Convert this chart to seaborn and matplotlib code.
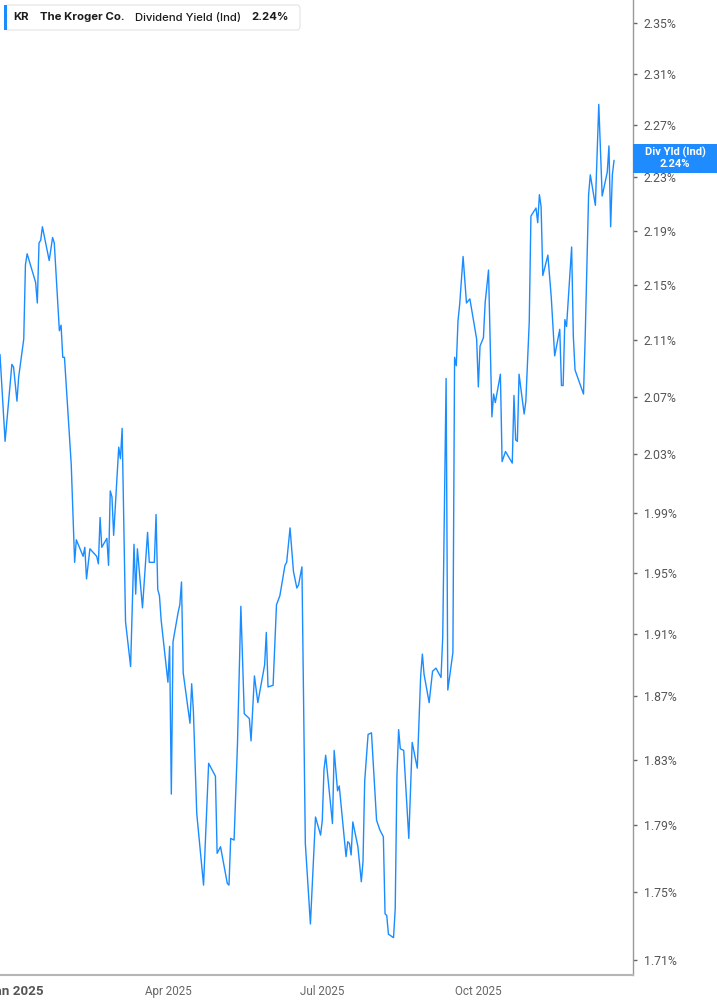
import matplotlib
matplotlib.use('Agg')
import matplotlib.pyplot as plt
from matplotlib.ticker import FixedLocator, NullLocator
from matplotlib.patches import FancyBboxPatch, Rectangle
import pandas as pd
import seaborn as sns

# Data (dividend yield, %)
dates = [
    "2024-12-23", "2024-12-26", "2024-12-29", "2024-12-30", "2024-12-31", "2025-01-02", "2025-01-03", "2025-01-06", "2025-01-07", "2025-01-08",
    "2025-01-13", "2025-01-14", "2025-01-15", "2025-01-16", "2025-01-17", "2025-01-21", "2025-01-23", "2025-01-24", "2025-01-27", "2025-01-28",
    "2025-01-29", "2025-01-30", "2025-02-03", "2025-02-05", "2025-02-06", "2025-02-10", "2025-02-11", "2025-02-12", "2025-02-14", "2025-02-18",
    "2025-02-19", "2025-02-20", "2025-02-21", "2025-02-24", "2025-02-25", "2025-02-26", "2025-02-27", "2025-02-28", "2025-03-03", "2025-03-04",
    "2025-03-05", "2025-03-07", "2025-03-10", "2025-03-12", "2025-03-13", "2025-03-14", "2025-03-17", "2025-03-20", "2025-03-21", "2025-03-24",
    "2025-03-25", "2025-03-26", "2025-03-27", "2025-03-28", "2025-04-01", "2025-04-02", "2025-04-03", "2025-04-04", "2025-04-07", "2025-04-08",
    "2025-04-09", "2025-04-10", "2025-04-14", "2025-04-15", "2025-04-16", "2025-04-18", "2025-04-22", "2025-04-25", "2025-04-29", "2025-04-30",
    "2025-05-02", "2025-05-06", "2025-05-07", "2025-05-08", "2025-05-10", "2025-05-12", "2025-05-14", "2025-05-16", "2025-05-19", "2025-05-20",
    "2025-05-22", "2025-05-24", "2025-05-28", "2025-05-29", "2025-05-30", "2025-06-02", "2025-06-04", "2025-06-06", "2025-06-09", "2025-06-10",
    "2025-06-12", "2025-06-14", "2025-06-16", "2025-06-17", "2025-06-19", "2025-06-21", "2025-06-24", "2025-06-27", "2025-06-30", "2025-07-01",
    "2025-07-02", "2025-07-03", "2025-07-07", "2025-07-08", "2025-07-10", "2025-07-11", "2025-07-15", "2025-07-16", "2025-07-17", "2025-07-18",
    "2025-07-19", "2025-07-22", "2025-07-24", "2025-07-25", "2025-07-26", "2025-07-28", "2025-07-30", "2025-08-02", "2025-08-04", "2025-08-06",
    "2025-08-07", "2025-08-08", "2025-08-09", "2025-08-12", "2025-08-13", "2025-08-14", "2025-08-15", "2025-08-16", "2025-08-18", "2025-08-21",
    "2025-08-23", "2025-08-26", "2025-08-28", "2025-08-29", "2025-08-30", "2025-09-02", "2025-09-04", "2025-09-06", "2025-09-09", "2025-09-10",
    "2025-09-12", "2025-09-13", "2025-09-16", "2025-09-17", "2025-09-18", "2025-09-19", "2025-09-20", "2025-09-22", "2025-09-24", "2025-09-26",
    "2025-09-30", "2025-10-01", "2025-10-02", "2025-10-04", "2025-10-05", "2025-10-07", "2025-10-09", "2025-10-10", "2025-10-11", "2025-10-14",
    "2025-10-15", "2025-10-17", "2025-10-21", "2025-10-22", "2025-10-23", "2025-10-24", "2025-10-25", "2025-10-28", "2025-10-29", "2025-10-31",
    "2025-11-01", "2025-11-04", "2025-11-05", "2025-11-06", "2025-11-07", "2025-11-08", "2025-11-11", "2025-11-13", "2025-11-15", "2025-11-18",
    "2025-11-19", "2025-11-20", "2025-11-21", "2025-11-22", "2025-11-25", "2025-11-26", "2025-11-27", "2025-12-02", "2025-12-03", "2025-12-05",
    "2025-12-06", "2025-12-09", "2025-12-11", "2025-12-13", "2025-12-16", "2025-12-17", "2025-12-18", "2025-12-19", "2025-12-20",
]

div_yield = [
    2.100, 2.039, 2.079, 2.093, 2.091, 2.067, 2.084, 2.111, 2.165, 2.173,
    2.152, 2.137, 2.181, 2.183, 2.193, 2.168, 2.185, 2.181, 2.117, 2.121,
    2.098, 2.098, 2.023, 1.957, 1.972, 1.961, 1.967, 1.946, 1.966, 1.961,
    1.956, 1.987, 1.967, 1.973, 1.955, 2.005, 2.001, 1.975, 2.035, 2.027,
    2.048, 1.918, 1.889, 1.969, 1.936, 1.966, 1.927, 1.977, 1.957, 1.957,
    1.989, 1.939, 1.935, 1.919, 1.879, 1.902, 1.809, 1.905, 1.924, 1.929,
    1.944, 1.885, 1.853, 1.878, 1.861, 1.797, 1.754, 1.828, 1.820, 1.773,
    1.777, 1.755, 1.754, 1.782, 1.781, 1.840, 1.928, 1.859, 1.856, 1.842,
    1.883, 1.866, 1.890, 1.911, 1.876, 1.877, 1.929, 1.935, 1.955, 1.957,
    1.980, 1.951, 1.940, 1.942, 1.954, 1.779, 1.731, 1.795, 1.784, 1.793,
    1.824, 1.833, 1.791, 1.836, 1.811, 1.814, 1.771, 1.780, 1.779, 1.772,
    1.792, 1.777, 1.756, 1.768, 1.817, 1.846, 1.847, 1.793, 1.787, 1.783,
    1.737, 1.736, 1.725, 1.723, 1.740, 1.820, 1.849, 1.837, 1.836, 1.782,
    1.841, 1.825, 1.883, 1.897, 1.884, 1.866, 1.886, 1.888, 1.882, 1.908,
    2.083, 1.874, 1.898, 2.098, 2.092, 2.124, 2.136, 2.171, 2.137, 2.140,
    2.111, 2.077, 2.106, 2.112, 2.137, 2.161, 2.056, 2.072, 2.066, 2.086,
    2.025, 2.032, 2.024, 2.071, 2.040, 2.039, 2.086, 2.058, 2.067, 2.123,
    2.201, 2.207, 2.196, 2.217, 2.208, 2.157, 2.172, 2.141, 2.099, 2.118,
    2.078, 2.078, 2.125, 2.120, 2.178, 2.113, 2.089, 2.072, 2.113, 2.217,
    2.232, 2.209, 2.286, 2.216, 2.234, 2.254, 2.193, 2.232, 2.243,
]

y_ticks = [1.71, 1.75, 1.79, 1.83, 1.87, 1.91, 1.95, 1.99, 2.03, 2.07,
           2.11, 2.15, 2.19, 2.23, 2.27, 2.31, 2.35]
x_ticks = ["2025-01-01", "2025-04-01", "2025-07-01", "2025-10-01"]
x_labels = ["Jan 2025", "Apr 2025", "Jul 2025", "Oct 2025"]

ticker = "KR"
company = "The Kroger Co."
metric = "Dividend Yield (Ind)"
last_value = 2.24

df = pd.DataFrame({"date": pd.to_datetime(dates), "value": div_yield})

sns.set_theme(style="white")
plt.rcParams['font.family'] = ['Roboto', 'DejaVu Sans']

W, H = 717, 1005
fig = plt.figure(figsize=(W / 100, H / 100), dpi=100)
ax = fig.add_axes([0, 30 / H, 632.7 / W, 1 - 30 / H])

line_color = '#1a8cff'
sns.lineplot(data=df, x='date', y='value', ax=ax, color=line_color, linewidth=1.0)

ax.set_yscale('log')
ax.set_ylim(1.7013, 2.3684)
ax.set_xlim(pd.Timestamp("2024-12-23"), pd.Timestamp("2025-12-31"))

ax.yaxis.tick_right()
ax.yaxis.set_major_locator(FixedLocator(y_ticks))
ax.yaxis.set_minor_locator(NullLocator())
ax.set_yticklabels([f"{v:.2f}%" for v in y_ticks])
ax.tick_params(axis='y', which='major', direction='out', length=3, width=1,
               color='#666666', labelcolor='#555555', labelsize=8.8, pad=5)

ax.set_xticks(pd.to_datetime(x_ticks))
ax.set_xticklabels(x_labels)
ax.tick_params(axis='x', direction='out', length=4, width=1, color='#999999',
               labelcolor='#666666', labelsize=8.4, pad=3)
first = ax.get_xticklabels()[0]
first.set_fontweight('bold')
first.set_fontsize(9.6)
first.set_color('#555555')

ax.set_xlabel('')
ax.set_ylabel('')
for side in ['top', 'left']:
    ax.spines[side].set_visible(False)
ax.spines['right'].set_color('#999999')
ax.spines['right'].set_linewidth(1)
ax.spines['bottom'].set_color('#b5b5b5')
ax.spines['bottom'].set_linewidth(1.5)
ax.grid(False)


def fx(px):
    return px / W


def fy(py):
    return 1 - py / H


# Header box top left
box = FancyBboxPatch((fx(5), fy(30)), fx(295), 25 / H,
                     boxstyle="round,pad=0,rounding_size=0.004",
                     transform=fig.transFigure, facecolor='white',
                     edgecolor='#e3e3e3', linewidth=0.8, zorder=5)
fig.patches.append(box)
fig.patches.append(Rectangle((fx(4), fy(30)), fx(3.2), 25 / H,
                             transform=fig.transFigure, facecolor=line_color,
                             edgecolor='none', zorder=6))
hdr = dict(va='center', ha='left', color='#1c1c1c', fontsize=8.2,
           family=['Inter', 'DejaVu Sans'], zorder=7)
fig.text(fx(13.5), fy(17.5), ticker, fontweight='bold', **hdr)
fig.text(fx(40), fy(17.5), company, fontweight='bold', **hdr)
fig.text(fx(135), fy(17.5), metric, fontweight='medium', **hdr)
fig.text(fx(251), fy(17.5), f"{last_value:.2f}%", fontweight='bold', **hdr)

# Last value label on the right axis
fig.patches.append(Rectangle((fx(632.7), fy(172.7)), fx(717 - 632.7), 28.7 / H,
                             transform=fig.transFigure, facecolor='#1e8cff',
                             edgecolor='none', zorder=6))
fig.text(fx(675), fy(152.3), "Div Yld (Ind)", ha='center', va='center',
         color='white', fontsize=8.0, fontweight='bold', zorder=7)
fig.text(fx(675), fy(164.3), f"{last_value:.2f}%", ha='center', va='center',
         color='white', fontsize=8.0, fontweight='bold', zorder=7)

fig.savefig('out.png', dpi=100)
